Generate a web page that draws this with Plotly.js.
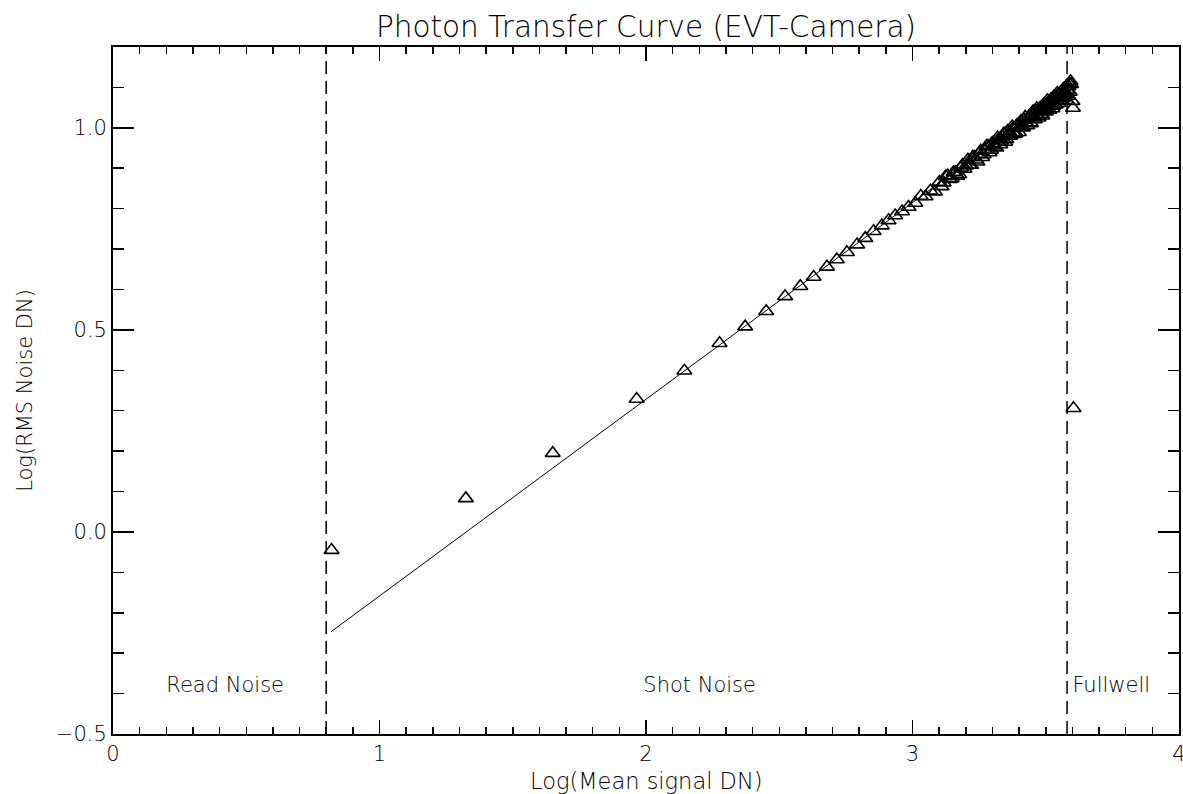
<!DOCTYPE html>
<html>
<head>
<meta charset="utf-8">
<script src="https://cdn.plot.ly/plotly-3.0.1.min.js"></script>
<style>
  html, body { margin: 0; padding: 0; background: #ffffff; }
  #chart { width: 1183px; height: 794px; }
</style>
</head>
<body>
<div id="chart"></div>
<script>
// ---- data ----
// Log(Mean signal DN)
const logSignal = [
  0.820, 1.324, 1.650, 1.965, 2.144,
  2.276, 2.372, 2.451, 2.522, 2.579, 2.629, 2.679, 2.716, 2.754, 2.792,
  2.823, 2.854, 2.885, 2.910, 2.935, 2.961, 2.985, 3.011,
  3.031, 3.049, 3.067, 3.084, 3.101, 3.117, 3.132, 3.147, 3.161, 3.175,
  3.188, 3.201, 3.214, 3.226, 3.238, 3.250, 3.261, 3.272, 3.283, 3.294,
  3.304, 3.314, 3.324, 3.333, 3.343, 3.352, 3.361, 3.370, 3.378, 3.387,
  3.395, 3.403, 3.411, 3.419, 3.427, 3.434, 3.442, 3.449, 3.456, 3.463,
  3.470, 3.477, 3.484, 3.491, 3.497, 3.503, 3.510, 3.516, 3.522, 3.528,
  3.534, 3.540, 3.546, 3.552, 3.558, 3.563, 3.569, 3.574, 3.580, 3.585,
  3.590, 3.595,
  3.109, 3.125, 3.140, 3.154, 3.168, 3.182, 3.195, 3.208, 3.220, 3.232,
  3.244, 3.256, 3.267, 3.278, 3.289, 3.299, 3.309, 3.319, 3.329, 3.338,
  3.348, 3.357, 3.366, 3.374, 3.383, 3.391, 3.399, 3.407, 3.415, 3.423,
  3.431, 3.438, 3.445, 3.452, 3.459, 3.466, 3.473, 3.480, 3.487, 3.494,
  3.500, 3.506, 3.513, 3.519, 3.525, 3.531, 3.537, 3.543, 3.549, 3.555,
  3.561, 3.566, 3.572, 3.577, 3.583, 3.588, 3.593,
  3.600, 3.602, 3.604
];
// Log(RMS Noise DN)
const logNoise = [
  -0.045, 0.083, 0.195, 0.329, 0.399,
  0.467, 0.508, 0.546, 0.583, 0.608, 0.631, 0.656, 0.674, 0.692, 0.711,
  0.727, 0.744, 0.758, 0.771, 0.783, 0.793, 0.804, 0.814,
  0.831, 0.830, 0.844, 0.842, 0.866, 0.864, 0.882, 0.875, 0.890, 0.885,
  0.908, 0.906, 0.908, 0.928, 0.921, 0.935, 0.927, 0.945, 0.955, 0.945,
  0.958, 0.951, 0.973, 0.968, 0.986, 0.972, 0.986, 0.984, 0.999, 0.987,
  1.005, 1.003, 1.001, 1.020, 1.012, 1.022, 1.013, 1.033, 1.027, 1.042,
  1.030, 1.042, 1.034, 1.052, 1.049, 1.046, 1.064, 1.054, 1.065, 1.054,
  1.073, 1.067, 1.082, 1.069, 1.081, 1.073, 1.091, 1.083, 1.094, 1.103,
  1.089, 1.108,
  0.855, 0.880, 0.873, 0.890, 0.881, 0.901, 0.898, 0.921, 0.908, 0.927,
  0.916, 0.943, 0.934, 0.955, 0.939, 0.962, 0.953, 0.976, 0.959, 0.978,
  0.965, 0.992, 0.980, 1.003, 0.984, 1.006, 0.989, 1.017, 1.001, 1.027,
  1.006, 1.029, 1.011, 1.040, 1.021, 1.048, 1.025, 1.050, 1.030, 1.059,
  1.040, 1.068, 1.044, 1.070, 1.048, 1.078, 1.057, 1.086, 1.061, 1.088,
  1.067, 1.096, 1.075, 1.103, 1.079, 1.109, 1.115,
  1.066, 1.049, 0.306
];
// shot-noise fit line (end points)
const fitX = [0.818, 3.600];
const fitY = [-0.247, 1.107];
// region boundaries (dashed lines)
const boundaryX = [0.80, 3.58];
// axis ranges and ticks
const xRange = [0, 4];
const yRange = [-0.5, 1.2];
const xTickVals = [0, 1, 2, 3, 4];
const xTickText = ['0', '1', '2', '3', '4'];
const yTickVals = [-0.5, 0.0, 0.5, 1.0];
const yTickText = ['\u22120.5', '0.0', '0.5', '1.0'];
// region labels
const regionLabels = ['Read Noise', 'Shot Noise', 'Fullwell'];
const regionLabelX = [0.20, 1.99, 3.60];
const regionLabelY = [-0.383, -0.383, -0.383];

// ---- drawing ----
const FONT = 'DejaVu Sans, Liberation Sans, sans-serif';
const INK = '#000000';

const traces = [];

boundaryX.forEach(function (bx) {
  traces.push({
    type: 'scatter', mode: 'lines',
    x: [bx, bx], y: yRange,
    line: { color: INK, width: 1.5, dash: '13px,7px' },
    hoverinfo: 'skip', showlegend: false
  });
});

traces.push({
  type: 'scatter', mode: 'lines',
  x: fitX, y: fitY,
  line: { color: INK, width: 1 },
  hoverinfo: 'skip', showlegend: false
});

traces.push({
  type: 'scatter', mode: 'markers',
  x: logSignal, y: logNoise,
  marker: { symbol: 'triangle-up-open', size: 13, color: INK, line: { width: 1.6, color: INK } },
  showlegend: false
});

traces.push({
  type: 'scatter', mode: 'text',
  x: regionLabelX, y: regionLabelY,
  text: regionLabels,
  textposition: 'middle right',
  textfont: { family: FONT, size: 21, color: INK, weight: 300 },
  hoverinfo: 'skip', showlegend: false, cliponaxis: false
});

const axisCommon = {
  showline: true, linecolor: INK, linewidth: 2,
  mirror: 'allticks', ticks: 'inside',
  tickcolor: INK, tickwidth: 1.5,
  showgrid: false, zeroline: false,
  tickfont: { family: FONT, size: 21, color: INK, weight: 300 },
  ticklabeloverflow: 'allow',
  fixedrange: true
};

const layout = {
  width: 1183, height: 794,
  paper_bgcolor: '#ffffff', plot_bgcolor: '#ffffff',
  margin: { l: 113, r: 4, t: 47, b: 60, pad: 0 },
  showlegend: false,
  title: {
    text: 'Photon Transfer Curve (EVT-Camera)',
    font: { family: FONT, size: 29.5, color: INK, weight: 300 },
    x: 0.5, xref: 'paper', xanchor: 'center',
    y: 0.967, yref: 'container', yanchor: 'middle'
  },
  xaxis: Object.assign({}, axisCommon, {
    range: xRange,
    tickmode: 'array', tickvals: xTickVals, ticktext: xTickText,
    ticklen: 14,
    minor: { dtick: 0.1, tick0: 0, ticks: 'inside', ticklen: 7, tickwidth: 1.5, tickcolor: INK, showgrid: false }
  }),
  yaxis: Object.assign({}, axisCommon, {
    range: yRange,
    tickmode: 'array', tickvals: yTickVals, ticktext: yTickText,
    ticklen: 21,
    minor: { dtick: 0.1, tick0: 0, ticks: 'inside', ticklen: 11, tickwidth: 1.5, tickcolor: INK, showgrid: false },
    title: { text: 'Log(RMS Noise DN)', font: { family: FONT, size: 21, color: INK, weight: 300 }, standoff: 17 }
  }),
  annotations: [{
    text: 'Log(Mean signal DN)',
    xref: 'paper', yref: 'paper', x: 0.5, y: -0.068,
    xanchor: 'center', yanchor: 'middle', showarrow: false,
    font: { family: FONT, size: 22.5, color: INK, weight: 300 }
  }]
};

Plotly.newPlot('chart', traces, layout, { displayModeBar: false, staticPlot: true });
</script>
</body>
</html>
